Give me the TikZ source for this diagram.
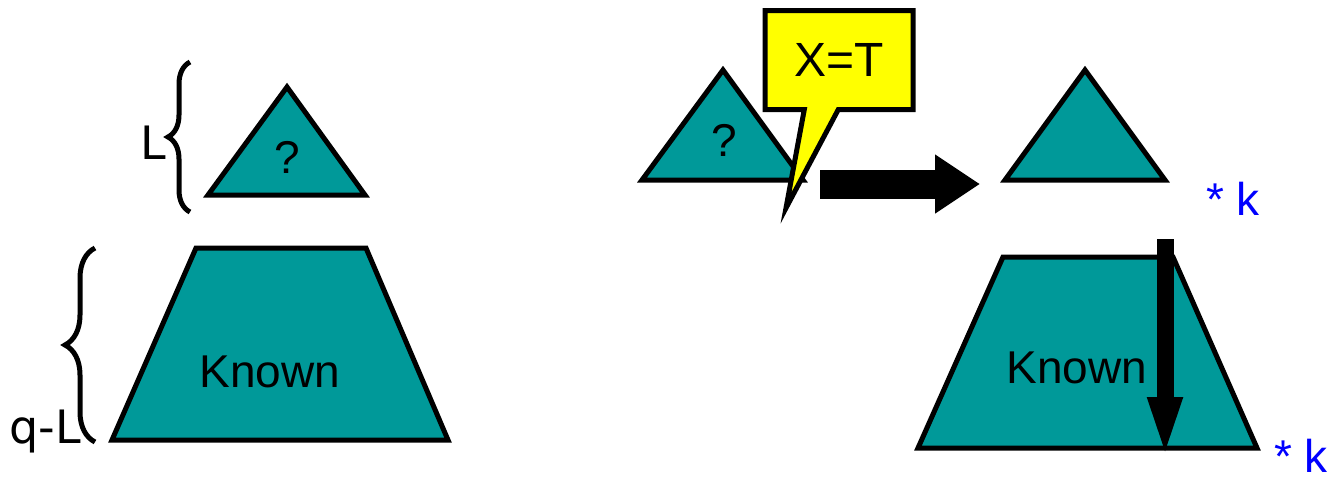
\documentclass[tikz,border=0pt]{standalone}
\usepackage{fontspec}
\setmainfont{Liberation Sans}
\newfontfamily\handfont{DejaVu Sans}
\usetikzlibrary{arrows.meta, shapes.callouts, decorations.pathreplacing}
\definecolor{trteal}{HTML}{009999}
\definecolor{trblue}{HTML}{0000FF}
\definecolor{tryellow}{HTML}{FFFF00}

\begin{document}
\begin{tikzpicture}[
    x=1pt, y=-1pt,
    solid shape/.style={draw=black, line width=5pt, fill=trteal, line join=miter},
    lbl/.style={font=\fontsize{46}{50}\selectfont, inner sep=0pt},
    hand/.style={font=\handfont\fontsize{46}{50}\selectfont, inner sep=0pt},
    factor/.style={font=\fontsize{46}{50}\selectfont, text=trblue, inner sep=0pt, anchor=base west},
    curly/.style={decorate, decoration={brace, amplitude=#1}, line width=5pt},
    bigarr/.style={-{Triangle[length=45pt, width=56pt]}, line width=29pt, draw=black},
    downarr/.style={-{Triangle[length=65pt, width=30pt]}, line width=17pt, draw=black}
  ]
    \useasboundingbox (0,0) rectangle (1334,482);

    % left: unknown top part and known trunk
    \draw[solid shape] (287,87) -- (365,195) -- (208,195) -- cycle;
    \node[lbl] (qtop) at (287,157) {?};
    \draw[solid shape] (196,248) -- (366,248) -- (448,440) -- (112,440) -- cycle;
    \node[lbl] (known) at (270,372) {Known};

    \draw[curly=22pt] (190,212) -- (190,62);
    \node[hand] (lvl) at (153,143) {L};
    \draw[curly=30pt] (95,442) -- (95,248);
    \node[hand] (rest) at (45,432) {q-L};

    % right: guess, then replicate
    \draw[solid shape] (723,70) -- (803,180) -- (642,180) -- cycle;
    \node[lbl] (qguess) at (724,140) {?};
    \node[rectangle callout, draw=black, line width=5pt, fill=tryellow,
          minimum width=148pt, minimum height=99pt, callout pointer width=34pt,
          callout absolute pointer={(786,208)}, font=\fontsize{48}{52}\selectfont]
          (guess) at (839,60) {X=T};

    \coordinate (from) at (820,184);
    \coordinate (to) at (980,184);
    \draw[bigarr] (from) -- (to);

    \draw[solid shape] (1085,70) -- (1165,180) -- (1005,180) -- cycle;
    \node[factor] (ktop) at (1206,215) {* k};

    \draw[solid shape] (1003,257) -- (1173,257) -- (1257,448) -- (918,448) -- cycle;
    \node[lbl] (knownk) at (1077,368) {Known};
    \node[factor] (kbot) at (1274,472) {* k};

    \coordinate (push) at (1165,239);
    \coordinate (land) at (1165,462);
    \draw[downarr] (push) -- (land);
  \end{tikzpicture}
\end{document}
